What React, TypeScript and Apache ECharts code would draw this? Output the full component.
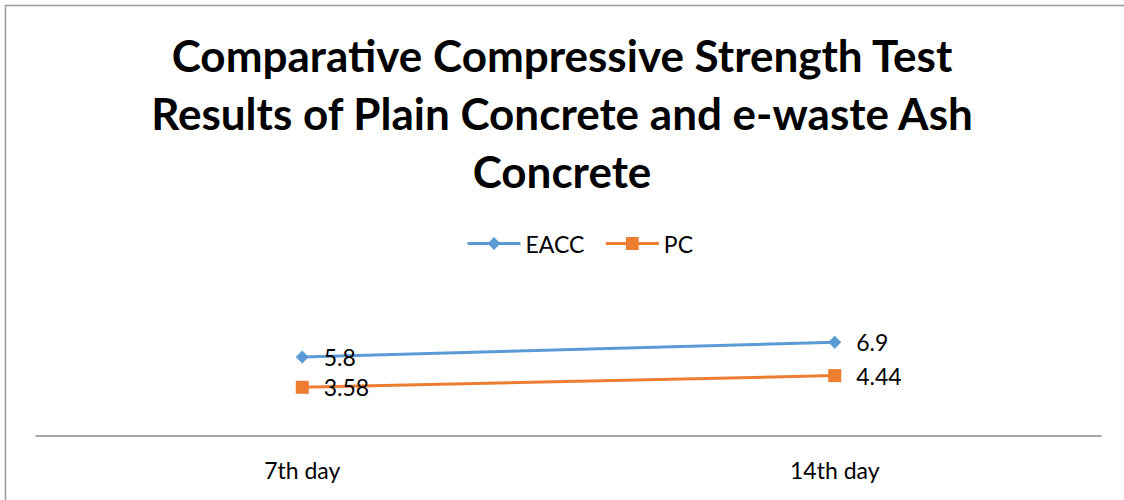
import React, { useEffect, useRef } from "react";
import * as echarts from "echarts";

const categories = ["7th day", "14th day"];
const eacc = [5.8, 6.9];
const pc = [3.58, 4.44];
const titleText = "Comparative Compressive Strength Test\nResults of Plain Concrete and e-waste Ash\nConcrete";

export default function App() {
  const ref = useRef<HTMLDivElement>(null);
  useEffect(() => {
    const chart = echarts.init(ref.current!, null, { renderer: "svg" });
    const font = "Lato, 'Open Sans', sans-serif";
    const label = {
      show: true,
      position: "right" as const,
      distance: 15,
      fontSize: 23,
      color: "#000",
      fontFamily: font,
    };
    chart.setOption({
      animation: false,
      backgroundColor: "#fff",
      title: {
        text: titleText,
        left: "center",
        top: 21,
        textStyle: {
          fontSize: 44,
          fontWeight: "bold",
          color: "#000",
          fontFamily: font,
          lineHeight: 58,
        },
      },
      legend: {
        top: 227,
        left: 461,
        itemWidth: 53,
        itemHeight: 16,
        itemGap: 20,
        lineStyle: { width: 3 },
        textStyle: { fontSize: 23, color: "#000", fontFamily: font },
        data: ["EACC", "PC"],
      },
      grid: { left: 36, right: 23, top: 300, bottom: 64 },
      xAxis: {
        type: "category",
        data: categories,
        boundaryGap: true,
        axisLine: { lineStyle: { color: "#888", width: 1.5 } },
        axisTick: { show: false },
        axisLabel: { fontSize: 23, color: "#000", fontFamily: font, margin: 22 },
      },
      yAxis: {
        type: "value",
        min: 0,
        max: 10,
        show: false,
        splitLine: { show: false },
      },
      series: [
        {
          name: "EACC",
          type: "line",
          data: eacc,
          symbol: "diamond",
          symbolSize: 13,
          lineStyle: { color: "#5B9BD5", width: 3 },
          itemStyle: { color: "#5B9BD5" },
          label,
        },
        {
          name: "PC",
          type: "line",
          data: pc,
          symbol: "rect",
          symbolSize: 13,
          lineStyle: { color: "#ED7D31", width: 3 },
          itemStyle: { color: "#ED7D31" },
          label,
        },
      ],
      graphic: [
        {
          type: "rect",
          shape: { x: 5.5, y: 5.5, width: 1130, height: 510 },
          style: { fill: "none", stroke: "#999", lineWidth: 1.5 },
          silent: true,
        },
      ],
    });
    return () => chart.dispose();
  }, []);
  return (
    <div
      ref={ref}
      style={{ position: "fixed", left: 0, top: 0, width: 1124, height: 500 }}
    />
  );
}
